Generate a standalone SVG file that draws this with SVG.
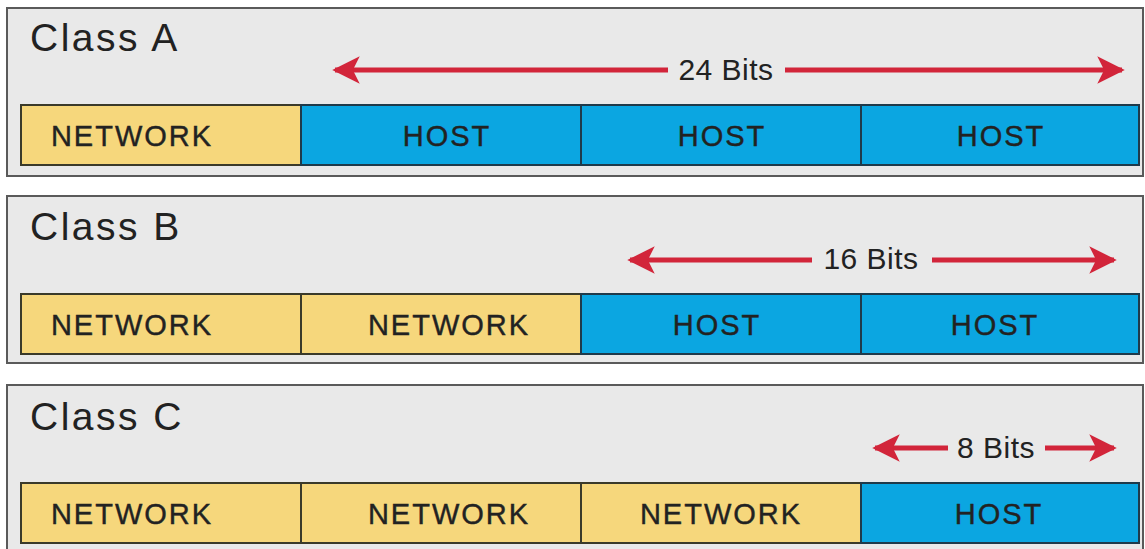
<svg xmlns="http://www.w3.org/2000/svg" width="1145" height="549" viewBox="0 0 1145 549">
<style>
.panel{fill:#e9e9e9;stroke:#5a5a5a;stroke-width:2}
.net{fill:#f6d77c;stroke:#3a3a2a;stroke-width:2}
.host{fill:#0ba6e1;stroke:#1f3a4a;stroke-width:2}
.title{font-family:"Liberation Sans",Arial,sans-serif;font-size:39px;letter-spacing:2.5px;fill:#222}
.seg{font-family:"Liberation Sans",Arial,sans-serif;font-size:29px;letter-spacing:2px;fill:#222;text-anchor:middle;stroke:#222;stroke-width:0.4}
.bits{font-family:"Liberation Sans",Arial,sans-serif;font-size:30px;letter-spacing:0.5px;fill:#222;text-anchor:middle}
.arr{stroke:#d2253a;stroke-width:5;fill:none}
</style>
<defs>
<marker id="ah" viewBox="0 0 10 10" refX="9" refY="5" markerWidth="5.5" markerHeight="5.5" orient="auto-start-reverse" markerUnits="strokeWidth">
<path d="M0,0 L10,5 L0,10 L2.5,5 Z" fill="#d2253a"/>
</marker>
</defs>
<rect width="1145" height="549" fill="#ffffff"/>
<g id="classA">
<rect class="panel" x="7" y="8" width="1136" height="168"/>
<text class="title" x="30" y="51">Class A</text>
<rect class="net" x="21" y="105" width="280" height="60"/>
<rect class="host" x="301" y="105" width="280" height="60"/>
<rect class="host" x="581" y="105" width="280" height="60"/>
<rect class="host" x="861" y="105" width="278" height="60"/>
<text class="seg" x="132" y="146">NETWORK</text>
<text class="seg" x="447" y="146">HOST</text>
<text class="seg" x="722" y="146">HOST</text>
<text class="seg" x="1001" y="146">HOST</text>
<text class="bits" x="726" y="80">24 Bits</text>
</g>
<g id="classB">
<rect class="panel" x="7" y="196" width="1136" height="167"/>
<text class="title" x="30" y="240">Class B</text>
<rect class="net" x="21" y="294" width="280" height="60"/>
<rect class="net" x="301" y="294" width="280" height="60"/>
<rect class="host" x="581" y="294" width="280" height="60"/>
<rect class="host" x="861" y="294" width="278" height="60"/>
<text class="seg" x="132" y="335">NETWORK</text>
<text class="seg" x="449" y="335">NETWORK</text>
<text class="seg" x="717" y="335">HOST</text>
<text class="seg" x="995" y="335">HOST</text>
<text class="bits" x="871" y="269">16 Bits</text>
</g>
<g id="classC">
<rect class="panel" x="7" y="385" width="1136" height="170"/>
<text class="title" x="30" y="430">Class C</text>
<rect class="net" x="21" y="483" width="280" height="60"/>
<rect class="net" x="301" y="483" width="280" height="60"/>
<rect class="net" x="581" y="483" width="280" height="60"/>
<rect class="host" x="861" y="483" width="278" height="60"/>
<text class="seg" x="132" y="524">NETWORK</text>
<text class="seg" x="449" y="524">NETWORK</text>
<text class="seg" x="721" y="524">NETWORK</text>
<text class="seg" x="999" y="524">HOST</text>
<text class="bits" x="996" y="458">8 Bits</text>
</g>
<g id="connectors">
<line class="arr" x1="668" y1="70" x2="335" y2="70" marker-end="url(#ah)"/>
<line class="arr" x1="785" y1="70" x2="1122" y2="70" marker-end="url(#ah)"/>
<line class="arr" x1="812" y1="260" x2="630" y2="260" marker-end="url(#ah)"/>
<line class="arr" x1="932" y1="260" x2="1114" y2="260" marker-end="url(#ah)"/>
<line class="arr" x1="948" y1="448" x2="875" y2="448" marker-end="url(#ah)"/>
<line class="arr" x1="1045" y1="448" x2="1114" y2="448" marker-end="url(#ah)"/>
</g>
</svg>
